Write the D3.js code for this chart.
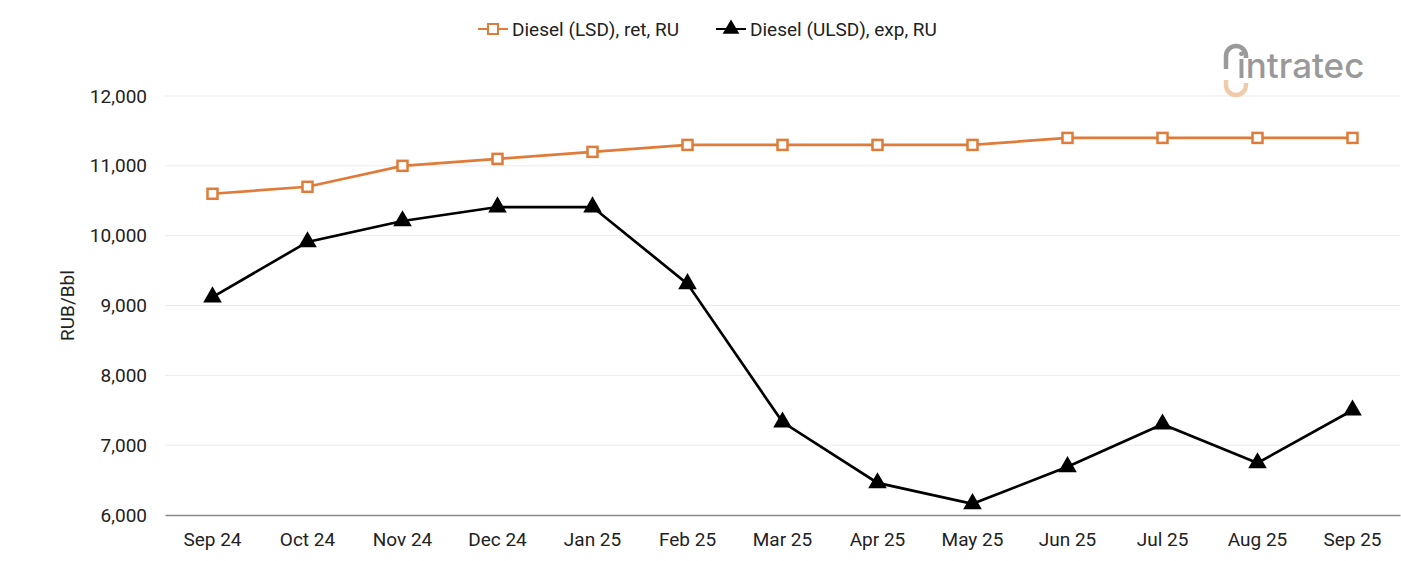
<!DOCTYPE html>
<html>
<head>
<meta charset="utf-8">
<script src="https://cdn.jsdelivr.net/npm/d3@7"></script>
<style>
  body { margin: 0; background: #fff; font-family: Roboto, "Noto Sans", sans-serif; }
</style>
</head>
<body>
<div id="chart"></div>
<script>
// chart data
var months = ['Sep 24', 'Oct 24', 'Nov 24', 'Dec 24', 'Jan 25', 'Feb 25', 'Mar 25',
              'Apr 25', 'May 25', 'Jun 25', 'Jul 25', 'Aug 25', 'Sep 25'];
var lsdRet = [10600, 10700, 11000, 11100, 11200, 11300, 11300, 11300, 11300, 11400, 11400, 11400, 11400];
var ulsdExp = [9120, 9910, 10210, 10410, 10410, 9310, 7330, 6460, 6160, 6690, 7300, 6745, 7500];
var yTicks = [6000, 7000, 8000, 9000, 10000, 11000, 12000];
var seriesNames = ['Diesel (LSD), ret, RU', 'Diesel (ULSD), exp, RU'];

const svgWidth = 1401;
const svgHeight = 561;

var margins = { top: 96, bottom: 46, left: 165, right: 1 };
var width = svgWidth - margins.left - margins.right;
var height = svgHeight - margins.top - margins.bottom;

var svg = d3.select('#chart')
    .append('svg')
    .attr('width', svgWidth)
    .attr('height', svgHeight);

var chartGroup = svg.append('g')
    .attr('transform', `translate(${margins.left}, ${margins.top})`);

// scales
var xScale = d3.scaleBand()
    .domain(months)
    .range([0, width]);

var yScale = d3.scaleLinear()
    .domain([6000, 12000])
    .range([height, 0]);

var xPos = d => xScale(d) + xScale.bandwidth() / 2;

// gridlines
chartGroup.selectAll('.grid')
    .data(yTicks.filter(t => t > 6000))
    .enter()
    .append('line')
    .attr('x1', 0)
    .attr('x2', width)
    .attr('y1', d => yScale(d))
    .attr('y2', d => yScale(d))
    .attr('stroke', '#ebebeb')
    .attr('stroke-width', 1);

// y axis (labels only)
var leftAxis = d3.axisLeft(yScale)
    .tickValues(yTicks)
    .tickFormat(d3.format(','))
    .tickSize(0)
    .tickPadding(18);

var yAxisG = chartGroup.append('g').call(leftAxis);
yAxisG.select('.domain').remove();
yAxisG.selectAll('text')
    .style('font-family', 'Roboto, sans-serif')
    .style('font-size', '19px')
    .attr('fill', '#222');

// x axis
var bottomAxis = d3.axisBottom(xScale).tickSize(0).tickPadding(18);
var xAxisG = chartGroup.append('g')
    .attr('transform', `translate(0, ${height})`)
    .call(bottomAxis);
xAxisG.select('.domain').attr('stroke', '#888').attr('stroke-width', 1.5);
xAxisG.selectAll('text')
    .style('font-family', 'Roboto, sans-serif')
    .style('font-size', '19px')
    .attr('fill', '#222');

// y axis title
svg.append('text')
    .attr('transform', `translate(74, ${margins.top + height / 2}) rotate(-90)`)
    .attr('text-anchor', 'middle')
    .style('font-family', 'Roboto, sans-serif')
    .style('font-size', '19px')
    .attr('fill', '#222')
    .text('RUB/Bbl');

// lines
var orange = '#e07b39';
var line = d3.line()
    .x((d, i) => xPos(months[i]))
    .y(d => yScale(d));

chartGroup.append('path')
    .datum(lsdRet)
    .attr('d', line)
    .attr('fill', 'none')
    .attr('stroke', orange)
    .attr('stroke-width', 2.7);

chartGroup.append('path')
    .datum(ulsdExp)
    .attr('d', line)
    .attr('fill', 'none')
    .attr('stroke', '#000')
    .attr('stroke-width', 2.7);

// markers
chartGroup.selectAll('.sq')
    .data(lsdRet)
    .enter()
    .append('rect')
    .attr('x', (d, i) => xPos(months[i]) - 5)
    .attr('y', d => yScale(d) - 5)
    .attr('width', 10)
    .attr('height', 10)
    .attr('fill', '#fff')
    .attr('stroke', orange)
    .attr('stroke-width', 2.5);

var tri = d3.symbol().type(d3.symbolTriangle).size(150);
chartGroup.selectAll('.tri')
    .data(ulsdExp)
    .enter()
    .append('path')
    .attr('d', tri)
    .attr('transform', (d, i) => `translate(${xPos(months[i])}, ${yScale(d)})`)
    .attr('fill', '#000');

// legend
var legend = svg.append('g').attr('transform', 'translate(478, 29)');
legend.append('line').attr('x1', 0).attr('x2', 30).attr('y1', 0).attr('y2', 0)
    .attr('stroke', orange).attr('stroke-width', 2);
legend.append('rect').attr('x', 10).attr('y', -5).attr('width', 10).attr('height', 10)
    .attr('fill', '#fff').attr('stroke', orange).attr('stroke-width', 2);
legend.append('text').attr('x', 34).attr('y', 7)
    .style('font-family', 'Roboto, sans-serif').style('font-size', '19px').attr('fill', '#222')
    .text(seriesNames[0]);

var legend2 = svg.append('g').attr('transform', 'translate(716, 29)');
legend2.append('line').attr('x1', 0).attr('x2', 30).attr('y1', 0).attr('y2', 0)
    .attr('stroke', '#000').attr('stroke-width', 2);
legend2.append('path').attr('d', d3.symbol().type(d3.symbolTriangle).size(120))
    .attr('transform', 'translate(15, 0)').attr('fill', '#000');
legend2.append('text').attr('x', 34).attr('y', 7)
    .style('font-family', 'Roboto, sans-serif').style('font-size', '19px').attr('fill', '#222')
    .text(seriesNames[1]);

// logo
var logo = svg.append('g').attr('transform', 'translate(1224, 45)');
logo.append('path')
    .attr('d', 'M2,24 L2,11 A10,10 0 0 1 22,11 L22,13')
    .attr('fill', 'none').attr('stroke', '#9a9a9a').attr('stroke-width', 4.5);
logo.append('path')
    .attr('d', 'M2,35 L2,40 A10,10 0 0 0 22,40 L22,38')
    .attr('fill', 'none').attr('stroke', '#f0cba9').attr('stroke-width', 4.5);
logo.append('text')
    .attr('x', 13).attr('y', 33)
    .style('font-family', 'Inter, "Open Sans", sans-serif').style('font-size', '35px')
    .style('font-weight', '500')
    .attr('fill', '#999')
    .text('intratec');
</script>
</body>
</html>
